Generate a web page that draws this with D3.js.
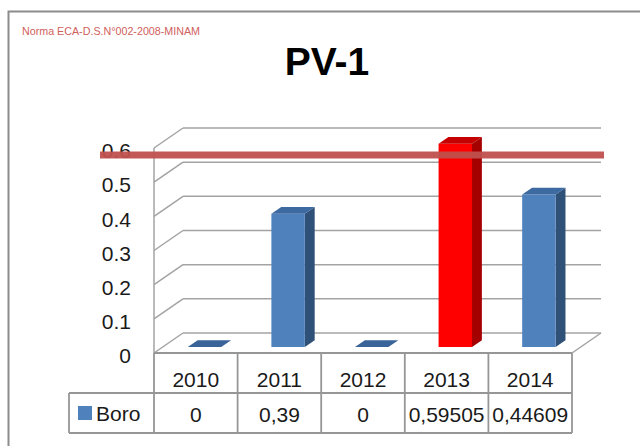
<!DOCTYPE html>
<html>
<head>
<meta charset="utf-8">
<script src="https://cdn.jsdelivr.net/npm/d3@7"></script>
<style>
  body { margin: 0; background: #fff; }
  svg { display: block; font-family: "Liberation Sans", Arial, sans-serif; }
</style>
</head>
<body>
<div id="chart"></div>
<script>
////////////////////////////////////////////////////////////////////////////////
// Data
////////////////////////////////////////////////////////////////////////////////
var years = ["2010", "2011", "2012", "2013", "2014"];
var boro = [0, 0.39, 0, 0.59505, 0.44609];
var boroLabels = ["0", "0,39", "0", "0,59505", "0,44609"];
var yTicks = [0, 0.1, 0.2, 0.3, 0.4, 0.5, 0.6];
var limitValue = 0.55; // norma ECA line
var seriesName = "Boro";
var chartTitle = "PV-1";
var normaText = "Norma ECA-D.S.N°002-2008-MINAM";

////////////////////////////////////////////////////////////////////////////////
// Constructor
////////////////////////////////////////////////////////////////////////////////
function Chart3D(w, h, id) {
   this.width = w;
   this.height = h;
   this.id = id;
   this.svg = null;
   // front plane of the plot box
   this.left = 154;
   this.right = 572;
   this.depthX = 29;   // oblique offset of the back wall
   this.depthY = -20;
   this.barFront = 0.3;  // bar depth range, 0 = front, 1 = back
   this.barBack = 0.64;
   this.x = d3.scaleBand().domain(years).range([this.left, this.right]);
   this.y = d3.scaleLinear().domain([0, 0.6]).range([353, 148]);
}

// project (screen x on front plane, value, depth) to screen coords
Chart3D.prototype.proj = function(px, v, d) {
   return [px + d * this.depthX, this.y(v) + d * this.depthY];
}

Chart3D.prototype.init = function() {
   this.svg = d3.select(this.id).append("svg")
      .attr("width", this.width)
      .attr("height", this.height);

   var defs = this.svg.append("defs");
   defs.append("filter").attr("id", "blur")
      .attr("x", "-5%").attr("y", "-100%").attr("width", "110%").attr("height", "300%")
      .append("feGaussianBlur").attr("stdDeviation", 1.6);
}

////////////////////////////////////////////////////////////////////////////////
// Render
////////////////////////////////////////////////////////////////////////////////
Chart3D.prototype.render = function() {
   var ref = this;
   var svg = this.svg;
   var line = d3.line();
   var gridColor = "#a3a3a3";

   // outer chart frame (only left and top edges show)
   svg.append("path")
      .attr("d", "M8.5,446 L8.5,11.5 L640,11.5")
      .attr("fill", "none")
      .attr("stroke", "#8c8c8c")
      .attr("stroke-width", 2);

   svg.append("text")
      .attr("x", 22).attr("y", 35)
      .attr("font-size", 10.5)
      .attr("textLength", 178)
      .attr("lengthAdjust", "spacingAndGlyphs")
      .attr("fill", "#d0605c")
      .text(normaText);

   svg.append("text")
      .attr("x", 327).attr("y", 75)
      .attr("text-anchor", "middle")
      .attr("font-size", 39)
      .attr("font-weight", "bold")
      .attr("fill", "#000")
      .text(chartTitle);

   // walls: back gridlines and left wall diagonals
   var grid = svg.append("g")
      .attr("fill", "none")
      .attr("stroke", gridColor)
      .attr("stroke-width", 1.5);

   yTicks.forEach(function(t) {
      grid.append("path").attr("d", line([ref.proj(ref.left, t, 1), ref.proj(ref.right, t, 1)]));
      grid.append("path").attr("d", line([ref.proj(ref.left, t, 0), ref.proj(ref.left, t, 1)]));
   });
   grid.append("path").attr("d", line([ref.proj(ref.left, 0, 0), ref.proj(ref.left, 0.6, 0)]));
   // floor edges
   grid.append("path").attr("d", line([ref.proj(ref.right, 0, 0), ref.proj(ref.right, 0, 1)]));

   // y axis labels
   var yAxis = d3.axisLeft(this.y)
      .tickValues(yTicks)
      .tickSize(0)
      .tickPadding(0)
      .tickFormat(function(d) { return d === 0 ? "0" : d3.format(".1f")(d); });
   var ax = svg.append("g")
      .attr("transform", "translate(131,3)")
      .call(yAxis);
   ax.select(".domain").remove();
   ax.selectAll("text")
      .attr("font-size", 21)
      .attr("font-family", "Liberation Sans, Arial, sans-serif")
      .attr("fill", "#1a1a1a");

   // bars
   var bw = this.x.bandwidth() * 0.4;
   var bars = svg.append("g");
   boro.forEach(function(v, i) {
      var over = v > limitValue;
      var c = over ? { front: "#ff0000", side: "#a40000", top: "#c40000" }
                   : { front: "#4f81bd", side: "#2f5077", top: "#3d6aa0" };
      var x0 = ref.x(years[i]) + (ref.x.bandwidth() - bw) / 2;
      var x1 = x0 + bw;
      var d0 = ref.barFront, d1 = ref.barBack;
      var g = bars.append("g");
      if (v > 0) {
         g.append("path").attr("fill", c.side)
            .attr("d", line([ref.proj(x1, 0, d0), ref.proj(x1, 0, d1), ref.proj(x1, v, d1), ref.proj(x1, v, d0)]) + "Z");
         g.append("path").attr("fill", c.front)
            .attr("d", line([ref.proj(x0, 0, d0), ref.proj(x1, 0, d0), ref.proj(x1, v, d0), ref.proj(x0, v, d0)]) + "Z");
      }
      g.append("path").attr("fill", v > 0 ? c.top : "#3a6499")
         .attr("d", line([ref.proj(x0, v, d0), ref.proj(x1, v, d0), ref.proj(x1, v, d1), ref.proj(x0, v, d1)]) + "Z");
   });

   // norma line with shadow
   var ly = this.proj(0, limitValue, 0.5)[1];
   svg.append("line")
      .attr("x1", 101).attr("x2", 605)
      .attr("y1", ly + 3).attr("y2", ly + 3)
      .attr("stroke", "#000").attr("stroke-opacity", 0.35)
      .attr("stroke-width", 6)
      .attr("filter", "url(#blur)");
   svg.append("line")
      .attr("x1", 100).attr("x2", 604)
      .attr("y1", ly).attr("y2", ly)
      .attr("stroke", "#c0504d")
      .attr("stroke-opacity", 0.95)
      .attr("stroke-width", 7);

   // data table
   var tbl = svg.append("g")
      .attr("fill", "none")
      .attr("stroke", "#969696")
      .attr("stroke-width", 1.8);
   var rowTop = 353, rowMid = 393, rowBot = 433, legLeft = 69;
   tbl.append("path").attr("d", line([[ref.left, rowTop], [ref.right, rowTop]]));
   tbl.append("path").attr("d", line([[legLeft, rowMid], [ref.right, rowMid]]));
   tbl.append("path").attr("d", line([[legLeft, rowBot], [ref.right, rowBot]]));
   tbl.append("path").attr("d", line([[legLeft, rowMid], [legLeft, rowBot]]));
   years.forEach(function(yr) {
      var xx = ref.x(yr);
      tbl.append("path").attr("d", line([[xx, rowTop], [xx, rowBot]]));
   });
   tbl.append("path").attr("d", line([[ref.right, rowTop], [ref.right, rowBot]]));

   var txt = svg.append("g")
      .attr("font-size", 21)
      .attr("fill", "#1a1a1a")
      .attr("text-anchor", "middle");
   years.forEach(function(yr, i) {
      var cx = ref.x(yr) + ref.x.bandwidth() / 2;
      txt.append("text").attr("x", cx).attr("y", 387).text(yr);
      txt.append("text").attr("x", cx).attr("y", 422).text(boroLabels[i]);
   });

   svg.append("rect")
      .attr("x", 78).attr("y", 406)
      .attr("width", 14).attr("height", 14)
      .attr("fill", "#4f81bd");
   svg.append("text")
      .attr("x", 96).attr("y", 421)
      .attr("font-size", 21)
      .attr("fill", "#1a1a1a")
      .text(seriesName);
}

var chart = new Chart3D(640, 446, "#chart");
chart.init();
chart.render();
</script>
</body>
</html>
